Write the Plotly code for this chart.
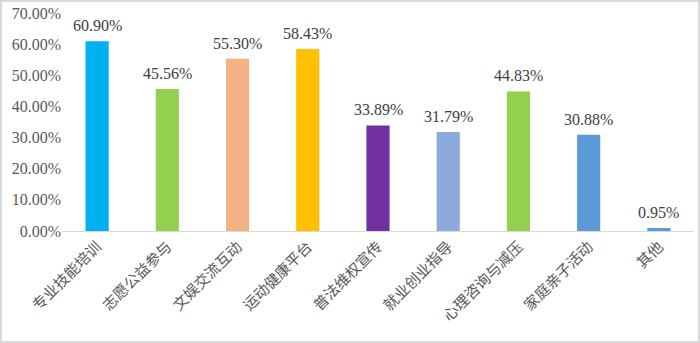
import plotly.graph_objects as go

categories = ["专业技能培训", "志愿公益参与", "文娱交流互动", "运动健康平台", "普法维权宣传",
              "就业创业指导", "心理咨询与减压", "家庭亲子活动", "其他"]
values = [60.90, 45.56, 55.30, 58.43, 33.89, 31.79, 44.83, 30.88, 0.95]
colors = ["#00B0F0", "#92D050", "#F4B183", "#FFC000", "#7030A0",
          "#8EA9DB", "#92D050", "#5B9BD5", "#5B9BD5"]
ytick_vals = [0, 10, 20, 30, 40, 50, 60, 70]
ytick_text = [f"{v:.2f}%" for v in ytick_vals]

W, H = 700, 343
ml, mr, mt, mb = 62, 6, 13, 112
pw, ph = W - ml - mr, H - mt - mb
serif = "Liberation Serif"

fig = go.Figure(go.Bar(
    x=categories, y=values,
    marker=dict(color=colors, line=dict(width=0)),
    width=0.33,
))

for c, v in zip(categories, values):
    fig.add_annotation(
        x=c, y=v, text=f"{v:.2f}%", showarrow=False,
        yanchor="bottom", yshift=5,
        font=dict(family=serif, size=16, color="#404040"),
    )

fig.update_layout(
    width=W, height=H,
    margin=dict(l=ml, r=mr, t=mt, b=mb),
    paper_bgcolor="white", plot_bgcolor="white",
    showlegend=False,
    xaxis=dict(
        tickangle=-45,
        tickfont=dict(family="Noto Sans CJK SC", size=15, color="#595959"),
        showline=True, linecolor="#D9D9D9", linewidth=1,
        ticks="", showgrid=False,
    ),
    yaxis=dict(
        range=[0, 70],
        tickvals=ytick_vals, ticktext=ytick_text,
        tickfont=dict(family=serif, size=16, color="#595959"),
        showgrid=False, zeroline=False, showline=False, ticks="",
    ),
    shapes=[dict(
        type="rect", xref="paper", yref="paper",
        x0=-(ml - 1) / pw, x1=1 + (mr - 1) / pw,
        y0=-(mb - 1) / ph, y1=1 + (mt - 1) / ph,
        line=dict(color="#D9D9D9", width=2),
    )],
)

fig.write_html("out.html")
